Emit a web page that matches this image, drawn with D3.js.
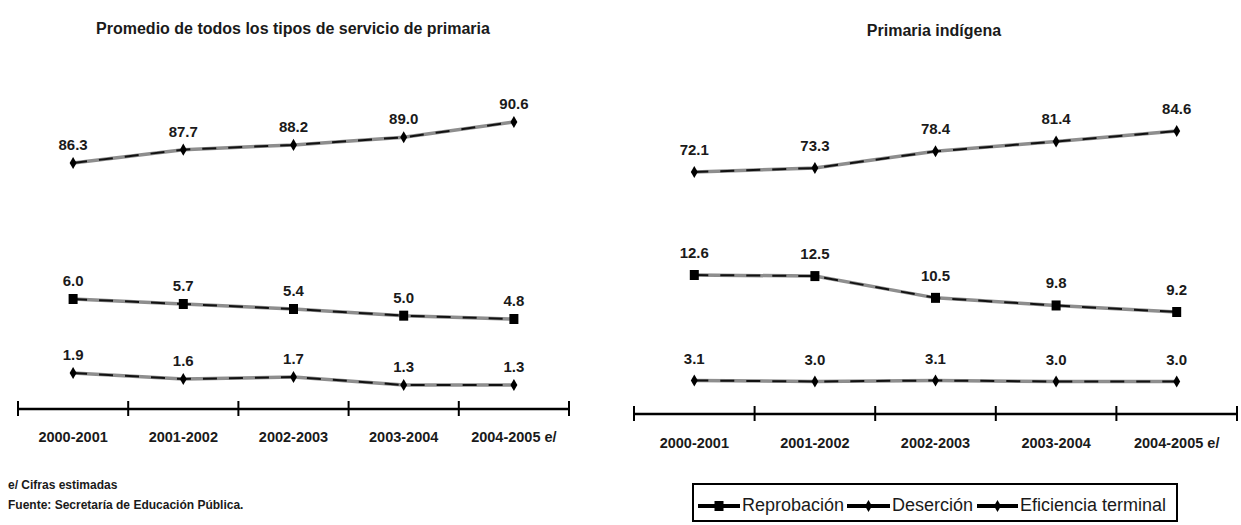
<!DOCTYPE html>
<html><head><meta charset="utf-8">
<script src="https://cdn.jsdelivr.net/npm/d3@7/dist/d3.min.js"></script>
<style>
body{margin:0;background:#fff;}
text{font-family:"Liberation Sans Narrow","Arial Narrow","Liberation Sans",Arial,sans-serif;fill:#1a1a1a;}
</style></head>
<body><svg id="c" width="1241" height="525"></svg>
<script>
const categories = ["2000-2001","2001-2002","2002-2003","2003-2004","2004-2005 e/"];
const seriesNames = ["Reprobación","Deserción","Eficiencia terminal"];
const titles = ["Promedio de todos los tipos de servicio de primaria","Primaria indígena"];
// Promedio de todos los tipos de servicio de primaria
const promReprobacion = [6.0,5.7,5.4,5.0,4.8];
const promDesercion   = [1.9,1.6,1.7,1.3,1.3];
const promEficiencia  = [86.3,87.7,88.2,89.0,90.6];
// Primaria indígena
const indReprobacion = [12.6,12.5,10.5,9.8,9.2];
const indDesercion   = [3.1,3.0,3.1,3.0,3.0];
const indEficiencia  = [72.1,73.3,78.4,81.4,84.6];
const footnotes = ["e/ Cifras estimadas","Fuente: Secretaría de Educación Pública."];

const svg = d3.select("#c");

const panels = [
  {title:titles[0], tx:293, ty:34, tsize:16, xr:[18,569], axisY:409, labY:442, lsize:14.5, vsize:15, voff:13,
   series:[
    {vals:promEficiencia, dom:[86.3,90.6], rng:[163,122], sym:"diamond"},
    {vals:promReprobacion, dom:[6.0,4.8], rng:[299,319], sym:"square"},
    {vals:promDesercion, dom:[1.9,1.3], rng:[373,385], sym:"diamond"}]},
  {title:titles[1], tx:934, ty:36, tsize:16, xr:[634,1237], axisY:414, labY:448, lsize:14.5, vsize:15, voff:17,
   series:[
    {vals:indEficiencia, dom:[72.1,84.6], rng:[172,131], sym:"diamond"},
    {vals:indReprobacion, dom:[12.6,9.2], rng:[275,312], sym:"square"},
    {vals:indDesercion, dom:[3.1,3.0], rng:[380.5,381.5], sym:"diamond"}]}
];

function drawMarker(g, x, y, sym){
  if(sym==="square"){
    g.append("rect").attr("x",x-4.5).attr("y",y-5).attr("width",9).attr("height",10).attr("fill","#000");
  } else {
    g.append("path").attr("d",d3.symbol(d3.symbolDiamond,42)()).attr("transform",`translate(${x},${y})`).attr("fill","#000");
  }
}

panels.forEach(p=>{
  const g = svg.append("g");
  const x = d3.scaleBand().domain(categories).range(p.xr);
  g.append("text").attr("x",p.tx).attr("y",p.ty).attr("text-anchor","middle")
    .attr("font-weight","bold").attr("font-size",p.tsize).text(p.title);
  p.series.forEach(s=>{
    const y = d3.scaleLinear().domain(s.dom).range(s.rng);
    const line = d3.line().x((d,i)=>x(categories[i])+x.bandwidth()/2).y(d=>y(d));
    g.append("path").attr("d",line(s.vals)).attr("fill","none").attr("stroke","#8e8e8e").attr("stroke-width",3.5);
    g.append("path").attr("d",line(s.vals)).attr("fill","none").attr("stroke","#111").attr("stroke-width",2).attr("stroke-dasharray","14,12");
    s.vals.forEach((v,i)=>{
      const cx = x(categories[i])+x.bandwidth()/2, cy=y(v);
      drawMarker(g,cx,cy,s.sym);
      g.append("text").attr("x",cx).attr("y",cy-p.voff).attr("text-anchor","middle")
        .attr("font-weight","bold").attr("font-size",p.vsize).text(v.toFixed(1));
    });
  });
  // axis
  g.append("line").attr("x1",p.xr[0]).attr("x2",p.xr[1]).attr("y1",p.axisY).attr("y2",p.axisY)
    .attr("stroke","#000").attr("stroke-width",2.5);
  const bounds = categories.map(c=>x(c)).concat([p.xr[1]]);
  g.selectAll(".tk").data(bounds).enter().append("line")
    .attr("x1",d=>d).attr("x2",d=>d).attr("y1",p.axisY-8).attr("y2",p.axisY+7)
    .attr("stroke","#000").attr("stroke-width",2);
  g.selectAll(".lb").data(categories).enter().append("text")
    .attr("x",d=>x(d)+x.bandwidth()/2).attr("y",p.labY).attr("text-anchor","middle")
    .attr("font-weight","bold").attr("font-size",p.lsize).text(d=>d);
});

// footnotes
svg.selectAll(".fn").data(footnotes).enter().append("text")
  .attr("x",8).attr("y",(d,i)=>489+i*20).attr("font-size",12).attr("font-weight","bold").text(d=>d);

// legend
const lg = svg.append("g");
lg.append("rect").attr("x",693).attr("y",484).attr("width",484).attr("height",37)
  .attr("fill","#fff").attr("stroke","#000").attr("stroke-width",2);
const legItems = [
  {name:seriesNames[0], x0:698, x1:740, tx:742, sym:"square"},
  {name:seriesNames[1], x0:847, x1:890, tx:892, sym:"diamond"},
  {name:seriesNames[2], x0:977, x1:1018, tx:1020, sym:"diamond"}];
legItems.forEach(it=>{
  lg.append("line").attr("x1",it.x0).attr("x2",it.x1).attr("y1",506).attr("y2",506).attr("stroke","#000").attr("stroke-width",4);
  drawMarker(lg,(it.x0+it.x1)/2,506,it.sym);
  lg.append("text").attr("x",it.tx).attr("y",511).attr("font-size",18).text(it.name);
});
</script></body></html>
